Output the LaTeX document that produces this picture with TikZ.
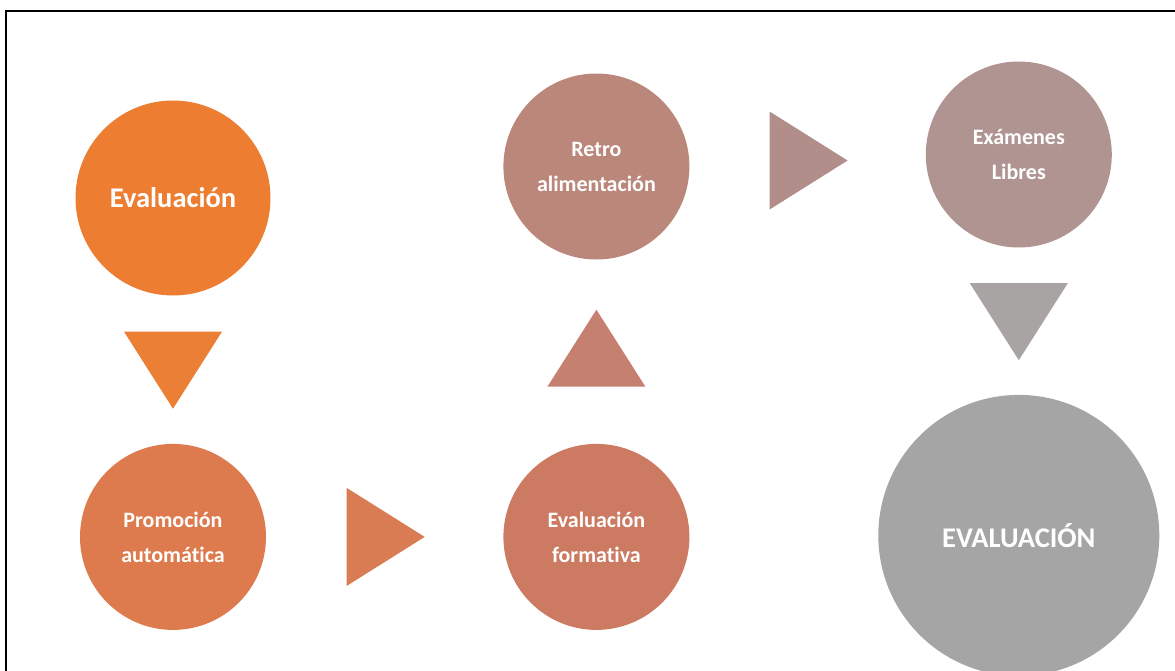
\documentclass[tikz,border=0pt]{standalone}
\usepackage{fontspec}
\setmainfont{Carlito}[Ligatures={NoCommon}]
\usetikzlibrary{positioning}
\usetikzlibrary{calc}
\definecolor{cEval}{HTML}{ED7D31}
\definecolor{cDownA}{HTML}{EB7F35}
\definecolor{cProm}{HTML}{DD7B4E}
\definecolor{cRightA}{HTML}{D97C54}
\definecolor{cForm}{HTML}{CC7B62}
\definecolor{cUp}{HTML}{C58070}
\definecolor{cRetro}{HTML}{BA877A}
\definecolor{cRightB}{HTML}{B28E8A}
\definecolor{cExam}{HTML}{AF9491}
\definecolor{cDownB}{HTML}{A7A4A3}
\definecolor{cFinal}{HTML}{A5A5A5}
\tikzset{
	x=1pt, y=-1pt,
	stage/.style={circle, fill=#1, text=white, align=center, inner sep=0pt,
		minimum size=186pt, font=\bfseries\fontsize{22}{35}\selectfont},
	bigstage/.style={stage=#1, font=\bfseries\fontsize{28.5}{34}\selectfont},
	frame/.style={line width=2pt, draw=black}
}

\begin{document}
\begin{tikzpicture}
	\useasboundingbox (0,0) rectangle (1175,670);
	\clip (0,0) rectangle (1175,670);
	% Frame
	\draw[frame] (5.7,700) |- (1200,11);
	
	\node (eval) [bigstage=cEval, minimum size=195pt] at (173,198) {Evaluación};
	\node (prom) [stage=cProm, below = 148pt of eval] {Promoción\\automática};
	\node (form) [stage=cForm, right = 237pt of prom] {Evaluación\\formativa};
	\node (retro) [stage=cRetro, above = 184pt of form] {Retro\\alimentación};
	\node (exam) [stage=cExam, right = 236pt of retro, yshift=12pt] {Exámenes\\Libres};
	\node (final) [bigstage=cFinal, minimum size=281pt, below = 147pt of exam] {EVALUACIÓN};
	
	\coordinate (m1) at ($(eval.south)!0.5!(prom.north)$);
	\coordinate (m2) at ($(prom.east)!0.5!(form.west)$);
	\coordinate (m3) at ($(form.north)!0.5!(retro.south)$);
	\coordinate (m4) at ($(retro.east)!0.5!(exam.west)$);
	\coordinate (m5) at ($(exam.south)!0.5!(final.north)$);
	
	\fill[cDownA] (m1) +(-49,-38) -- +(49,-38) -- +(0,39) -- cycle;
	\fill[cRightA] (m2) +(-38,-49) -- +(40,0) -- +(-38,49) -- cycle;
	\fill[cUp] (m3) +(-49,35) -- +(49,35) -- +(0,-42) -- cycle;
	\fill[cRightB] (m4) +(-38,-49) -- +(40,0) -- +(-38,49) -- cycle;
	\fill[cDownB] (m5) +(-49,-38) -- +(49,-38) -- +(0,39) -- cycle;
	
\end{tikzpicture}
\end{document}
